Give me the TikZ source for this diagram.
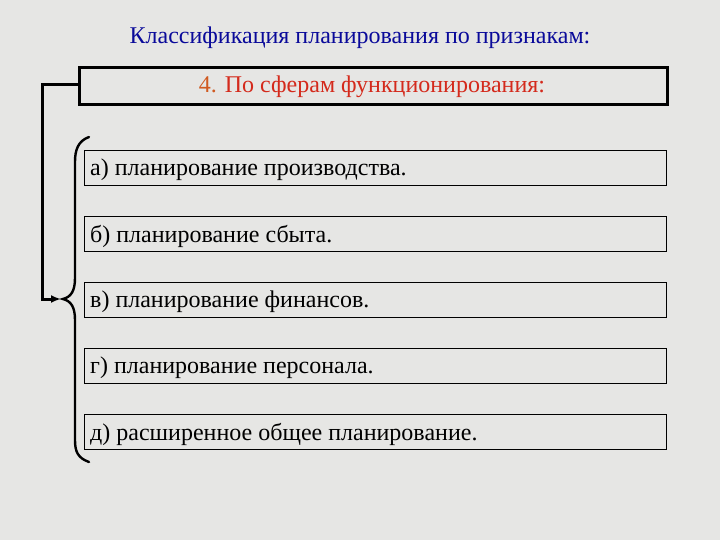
\documentclass[tikz,border=0pt]{standalone}
\usepackage{fontspec}
\setmainfont{Liberation Serif}
\usetikzlibrary{arrows.meta}
\definecolor{bgc}{HTML}{E6E6E4}
\definecolor{titleblue}{HTML}{0A0A9A}
\definecolor{hdrred}{HTML}{D42A1C}
\definecolor{numor}{HTML}{D05A20}
\tikzset{
  itembox/.style={draw=black, line width=1.3pt, minimum width=582pt, minimum height=35pt, anchor=north west, inner sep=0pt},
  itemtext/.style={anchor=west, font=\fontsize{24}{28}\selectfont, text=black, inner sep=0pt},
  conn/.style={line width=3pt, line join=miter},
}
\begin{document}
\begin{tikzpicture}[x=1pt,y=-1pt]
\fill[bgc] (0,0) rectangle (720,540);
\useasboundingbox (0,0) rectangle (720,540);
\node[font=\fontsize{24}{28}\selectfont, text=titleblue] (title) at (360,38) {Классификация планирования по признакам:};
\node[draw=black, line width=3pt, minimum width=588pt, minimum height=37pt, anchor=north west, inner sep=0pt] (hdr) at (78,66) {};
\node[font=\fontsize{24}{28}\selectfont, text=hdrred] (hdrtext) at (372,87) {\textcolor{numor}{4.} По сферам функционирования:};
\node[itembox] (a) at (84,150) {};
\node[itembox] (b) at (84,216) {};
\node[itembox] (c) at (84,282) {};
\node[itembox] (d) at (84,348) {};
\node[itembox] (e) at (84,414) {};
\node[itemtext] at ([xshift=6pt,yshift=-2pt]a.west) {а) планирование производства.};
\node[itemtext] at ([xshift=6pt,yshift=-2pt]b.west) {б) планирование сбыта.};
\node[itemtext] at ([xshift=6pt,yshift=-2pt]c.west) {в) планирование финансов.};
\node[itemtext] at ([xshift=6pt,yshift=-2pt]d.west) {г) планирование персонала.};
\node[itemtext] at ([xshift=6pt,yshift=-2pt]e.west) {д) расширенное общее планирование.};
% brace
\coordinate (tip) at (63,299);
\coordinate (arrend) at (61,299);
\draw[line width=2.4pt, line cap=round] (89,137) .. controls (78,141) and (75,150) .. (75,162)
  -- (75,278) .. controls (75,291) and (71,297) .. (tip)
  .. controls (71,301) and (75,307) .. (75,320)
  -- (75,440) .. controls (75,452) and (78,458) .. (89,462);
% connector
\draw[conn, -{Latex[length=10pt,width=8pt]}] (hdr.west |- 0,85) -- (42,85) -- (42,299) -- (arrend);
\end{tikzpicture}
\end{document}
